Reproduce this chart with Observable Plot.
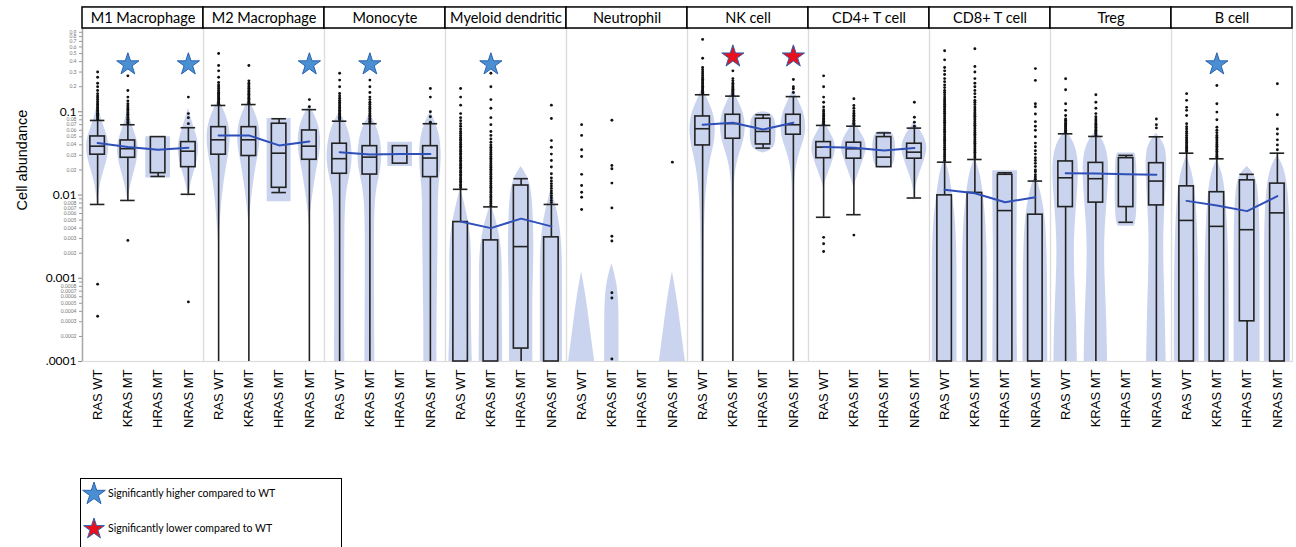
<!DOCTYPE html>
<html><head><meta charset="utf-8">
<script src="https://cdn.jsdelivr.net/npm/d3@7"></script>
<script src="https://cdn.jsdelivr.net/npm/@observablehq/plot@0.6"></script>
<style>
body{margin:0;background:#fff;}
#chart svg{display:block;}
#legend{position:relative;margin-left:80px;margin-top:33px;width:262px;height:90px;border:1.5px solid #000;box-sizing:border-box;font-family:Lato,"Open Sans",sans-serif;font-size:10.5px;color:#000;}
#legend .it{position:absolute;left:0;display:flex;align-items:center;white-space:nowrap;}
</style></head><body>
<div id="chart"></div>
<div id="legend"></div>
<script>
// ---------- data ----------
const cells = ["M1 Macrophage","M2 Macrophage","Monocyte","Myeloid dendritic","Neutrophil","NK cell","CD4+ T cell","CD8+ T cell","Treg","B cell"];
const groups = ["RAS WT","KRAS MT","HRAS MT","NRAS MT"];

const yMajor = [0.0001, 0.001, 0.01, 0.1];
const yMajorLabels = [".0001", "0.001", "0.01", "0.1"];
const yMinor = [0.0002,0.0003,0.0004,0.0005,0.0006,0.0007,0.0008,0.0009,
                0.002,0.003,0.004,0.005,0.006,0.007,0.008,0.009,
                0.02,0.03,0.04,0.05,0.06,0.07,0.08,0.09,
                0.2,0.3,0.4,0.5,0.6,0.7,0.8,0.9];
// minor labels printed (the ones just under a major label are hidden by it)
const yMinorLabels = [0.0002,0.0003,0.0004,0.0005,0.0006,0.0007,0.0008,
                      0.002,0.003,0.004,0.005,0.006,0.007,0.008,
                      0.02,0.03,0.04,0.05,0.06,0.07,0.08,
                      0.2,0.3,0.4,0.5,0.6,0.7,0.8,0.9];

// [cell, group, lowerWhisker, q1, median, q3, upperWhisker]
const boxStats = [
  ["M1 Macrophage","RAS WT",0.0077,0.0305,0.0386,0.0505,0.0786],
  ["M1 Macrophage","KRAS MT",0.0086,0.028,0.036,0.0452,0.0698],
  ["M1 Macrophage","HRAS MT",0.0167,0.0183,null,0.0496,null],
  ["M1 Macrophage","NRAS MT",0.0102,0.0216,0.0336,0.0432,0.0643],
  ["M2 Macrophage","RAS WT",0.0001,0.0305,0.046,0.0653,0.119],
  ["M2 Macrophage","KRAS MT",0.0001,0.0294,0.046,0.0653,0.122],
  ["M2 Macrophage","HRAS MT",0.0107,0.0122,0.0318,0.0718,0.0824],
  ["M2 Macrophage","NRAS MT",0.0001,0.0265,0.0386,0.0596,0.106],
  ["Monocyte","RAS WT",0.0001,0.018,0.0273,0.0413,0.077],
  ["Monocyte","KRAS MT",0.0001,0.0176,0.0285,0.0386,0.0718],
  ["Monocyte","HRAS MT",null,0.0238,null,0.0386,null],
  ["Monocyte","NRAS MT",0.0001,0.0164,0.0278,0.0386,0.0718],
  ["Myeloid dendritic","RAS WT",0.0001,0.0001,null,0.00473,0.0117],
  ["Myeloid dendritic","KRAS MT",0.0001,0.0001,null,0.00285,0.0072],
  ["Myeloid dendritic","HRAS MT",0.0001,0.000143,0.0024,0.013,0.0157],
  ["Myeloid dendritic","NRAS MT",0.0001,0.0001,null,0.0031,0.0077],
  ["NK cell","RAS WT",0.0001,0.0394,0.0625,0.0878,0.16],
  ["NK cell","KRAS MT",0.0001,0.0474,0.072,0.092,0.154],
  ["NK cell","HRAS MT",0.0366,0.0405,0.058,0.0824,0.092],
  ["NK cell","NRAS MT",0.0001,0.053,0.0698,0.092,0.152],
  ["CD4+ T cell","RAS WT",0.0054,0.0277,0.0376,0.0432,0.0685],
  ["CD4+ T cell","KRAS MT",0.0058,0.0273,0.0359,0.0425,0.067],
  ["CD4+ T cell","HRAS MT",null,0.0216,0.0285,0.0496,0.0557],
  ["CD4+ T cell","NRAS MT",0.0092,0.0273,0.0327,0.0413,0.0636],
  ["CD8+ T cell","RAS WT",0.0001,0.0001,null,0.0099,0.0248],
  ["CD8+ T cell","KRAS MT",0.0001,0.0001,null,0.0106,0.0267],
  ["CD8+ T cell","HRAS MT",0.0001,0.0001,0.0065,0.0175,0.0185],
  ["CD8+ T cell","NRAS MT",0.0001,0.0001,null,0.0058,0.0147],
  ["Treg","RAS WT",0.0001,0.00716,0.0161,0.0253,0.0543],
  ["Treg","KRAS MT",0.0001,0.0081,0.0157,0.0243,0.0505],
  ["Treg","HRAS MT",0.0047,0.00716,null,0.0277,0.0299],
  ["Treg","NRAS MT",0.0001,0.0075,0.0147,0.0241,0.05],
  ["B cell","RAS WT",0.0001,0.0001,0.00495,0.0127,0.0318],
  ["B cell","KRAS MT",0.0001,0.0001,0.0042,0.0108,0.0272],
  ["B cell","HRAS MT",0.0001,0.000304,0.00383,0.015,0.0177],
  ["B cell","NRAS MT",0.0001,0.0001,0.0061,0.0137,0.0318]
];

// [cell, group, mean]
const means = [
  ["M1 Macrophage","RAS WT",0.042],["M1 Macrophage","KRAS MT",0.0376],["M1 Macrophage","HRAS MT",0.035],["M1 Macrophage","NRAS MT",0.0369],
  ["M2 Macrophage","RAS WT",0.052],["M2 Macrophage","KRAS MT",0.052],["M2 Macrophage","HRAS MT",0.0394],["M2 Macrophage","NRAS MT",0.044],
  ["Monocyte","RAS WT",0.0327],["Monocyte","KRAS MT",0.0307],["Monocyte","HRAS MT",0.031],["Monocyte","NRAS MT",0.031],
  ["Myeloid dendritic","RAS WT",0.0048],["Myeloid dendritic","KRAS MT",0.0040],["Myeloid dendritic","HRAS MT",0.0052],["Myeloid dendritic","NRAS MT",0.0042],
  ["NK cell","RAS WT",0.0698],["NK cell","KRAS MT",0.0738],["NK cell","HRAS MT",0.0612],["NK cell","NRAS MT",0.0738],
  ["CD4+ T cell","RAS WT",0.0376],["CD4+ T cell","KRAS MT",0.0369],["CD4+ T cell","HRAS MT",0.0343],["CD4+ T cell","NRAS MT",0.0366],
  ["CD8+ T cell","RAS WT",0.0116],["CD8+ T cell","KRAS MT",0.0105],["CD8+ T cell","HRAS MT",0.0082],["CD8+ T cell","NRAS MT",0.0094],
  ["Treg","RAS WT",0.0183],["Treg","KRAS MT",0.0181],["Treg","HRAS MT",0.0178],["Treg","NRAS MT",0.0175],
  ["B cell","RAS WT",0.0085],["B cell","KRAS MT",0.0075],["B cell","HRAS MT",0.0064],["B cell","NRAS MT",0.0097]
];

// [cell, group, [[value, relative density], ...]] top to bottom
const violins = [
  ["M1 Macrophage","RAS WT",[[0.13,0],[0.09,0.2],[0.065,0.5],[0.05,0.78],[0.038,0.88],[0.028,0.78],[0.02,0.5],[0.014,0.22],[0.009,0.05],[0.0075,0]]],
  ["M1 Macrophage","KRAS MT",[[0.11,0],[0.08,0.2],[0.06,0.45],[0.045,0.75],[0.035,0.82],[0.026,0.72],[0.018,0.45],[0.013,0.2],[0.009,0.04],[0.0085,0]]],
  ["M1 Macrophage","HRAS MT",[[0.05,0.95],[0.016,0.95]]],
  ["M1 Macrophage","NRAS MT",[[0.11,0],[0.08,0.25],[0.06,0.5],[0.045,0.75],[0.035,0.8],[0.026,0.7],[0.018,0.4],[0.013,0.15],[0.01,0.04],[0.009,0]]],
  ["M2 Macrophage","RAS WT",[[0.14,0],[0.11,0.35],[0.08,0.7],[0.06,0.88],[0.045,0.9],[0.032,0.8],[0.02,0.55],[0.012,0.35],[0.007,0.2],[0.004,0.08],[0.0025,0]]],
  ["M2 Macrophage","KRAS MT",[[0.14,0],[0.11,0.35],[0.08,0.7],[0.06,0.85],[0.045,0.88],[0.032,0.75],[0.02,0.5],[0.012,0.3],[0.007,0.12],[0.0045,0]]],
  ["M2 Macrophage","HRAS MT",[[0.083,0.92],[0.0083,0.92]]],
  ["M2 Macrophage","NRAS MT",[[0.12,0],[0.1,0.3],[0.075,0.65],[0.055,0.85],[0.04,0.88],[0.028,0.75],[0.018,0.5],[0.011,0.3],[0.007,0.12],[0.0045,0]]],
  ["Monocyte","RAS WT",[[0.1,0],[0.075,0.45],[0.05,0.85],[0.03,1],[0.02,0.9],[0.013,0.6],[0.008,0.45],[0.004,0.4],[0.001,0.38],[0.0003,0.38],[0.0001,0.4]]],
  ["Monocyte","KRAS MT",[[0.095,0],[0.07,0.45],[0.05,0.8],[0.03,0.95],[0.02,0.85],[0.013,0.55],[0.008,0.4],[0.004,0.35],[0.001,0.35],[0.0001,0.38]]],
  ["Monocyte","HRAS MT",[[0.043,0.95],[0.022,0.95]]],
  ["Monocyte","NRAS MT",[[0.1,0],[0.075,0.4],[0.05,0.75],[0.032,0.85],[0.02,0.8],[0.013,0.65],[0.008,0.6],[0.004,0.6],[0.001,0.55],[0.0003,0.5],[0.0001,0.5]]],
  ["Myeloid dendritic","RAS WT",[[0.012,0],[0.008,0.3],[0.005,0.6],[0.003,0.8],[0.0015,0.85],[0.0006,0.8],[0.0002,0.85],[0.0001,0.9]]],
  ["Myeloid dendritic","KRAS MT",[[0.008,0],[0.005,0.4],[0.003,0.75],[0.0015,0.9],[0.0006,0.85],[0.0002,0.9],[0.0001,0.9]]],
  ["Myeloid dendritic","HRAS MT",[[0.022,0],[0.016,0.6],[0.01,0.85],[0.005,0.95],[0.002,1],[0.0008,0.9],[0.0003,0.9],[0.0001,0.9]]],
  ["Myeloid dendritic","NRAS MT",[[0.012,0],[0.007,0.4],[0.004,0.7],[0.002,0.85],[0.0008,0.85],[0.0003,0.85],[0.0001,0.85]]],
  ["Neutrophil","RAS WT",[[0.0012,0],[0.0006,0.35],[0.0003,0.6],[0.00015,0.85],[0.0001,1]]],
  ["Neutrophil","KRAS MT",[[0.0015,0],[0.0009,0.4],[0.0005,0.55],[0.0002,0.55],[0.0001,0.55]]],
  ["Neutrophil","NRAS MT",[[0.0012,0],[0.0006,0.35],[0.0003,0.6],[0.00015,0.85],[0.0001,1]]],
  ["NK cell","RAS WT",[[0.2,0],[0.15,0.3],[0.11,0.7],[0.08,0.95],[0.055,1],[0.038,0.85],[0.025,0.55],[0.015,0.35],[0.008,0.2],[0.003,0.12],[0.0005,0.1],[0.0001,0.1]]],
  ["NK cell","KRAS MT",[[0.19,0],[0.14,0.35],[0.1,0.8],[0.075,0.95],[0.055,0.95],[0.04,0.75],[0.028,0.4],[0.018,0.15],[0.01,0.06],[0.0001,0.04]]],
  ["NK cell","HRAS MT",[[0.1,0],[0.095,0.8],[0.07,1],[0.045,1],[0.035,0.8],[0.032,0]]],
  ["NK cell","NRAS MT",[[0.19,0],[0.14,0.35],[0.1,0.8],[0.075,0.95],[0.055,0.95],[0.04,0.7],[0.028,0.35],[0.018,0.12],[0.01,0.05],[0.0001,0.04]]],
  ["CD4+ T cell","RAS WT",[[0.08,0],[0.06,0.4],[0.047,0.8],[0.037,0.95],[0.028,0.8],[0.02,0.45],[0.015,0.15],[0.012,0]]],
  ["CD4+ T cell","KRAS MT",[[0.078,0],[0.06,0.4],[0.047,0.85],[0.037,1],[0.028,0.8],[0.02,0.45],[0.015,0.15],[0.012,0]]],
  ["CD4+ T cell","HRAS MT",[[0.058,0.3],[0.055,0.9],[0.023,0.9],[0.021,0.3]]],
  ["CD4+ T cell","NRAS MT",[[0.075,0],[0.06,0.45],[0.047,0.85],[0.037,1],[0.028,0.85],[0.02,0.5],[0.015,0.2],[0.011,0.05],[0.008,0]]],
  ["CD8+ T cell","RAS WT",[[0.028,0],[0.018,0.4],[0.01,0.6],[0.005,0.85],[0.002,0.95],[0.0008,0.95],[0.0003,0.95],[0.0001,0.95]]],
  ["CD8+ T cell","KRAS MT",[[0.028,0],[0.018,0.45],[0.01,0.65],[0.005,0.85],[0.002,0.95],[0.0008,0.95],[0.0003,0.95],[0.0001,0.95]]],
  ["CD8+ T cell","HRAS MT",[[0.0195,0.95],[0.01,0.95],[0.003,0.9],[0.001,0.9],[0.0001,0.95]]],
  ["CD8+ T cell","NRAS MT",[[0.018,0],[0.01,0.5],[0.005,0.8],[0.002,0.9],[0.0007,0.95],[0.0001,0.95]]],
  ["Treg","RAS WT",[[0.06,0],[0.045,0.6],[0.03,0.95],[0.018,1],[0.01,0.9],[0.005,0.75],[0.0025,0.65],[0.001,0.7],[0.0003,0.85],[0.0001,0.9]]],
  ["Treg","KRAS MT",[[0.058,0],[0.045,0.6],[0.03,0.95],[0.018,1],[0.01,0.9],[0.005,0.75],[0.0025,0.65],[0.001,0.7],[0.0003,0.85],[0.0001,0.9]]],
  ["Treg","HRAS MT",[[0.032,0.6],[0.03,0.85],[0.005,0.85],[0.0042,0.6]]],
  ["Treg","NRAS MT",[[0.055,0],[0.042,0.6],[0.03,0.8],[0.018,0.8],[0.01,0.7],[0.005,0.6],[0.0025,0.55],[0.001,0.6],[0.0003,0.7],[0.0001,0.75]]],
  ["B cell","RAS WT",[[0.03,0],[0.02,0.4],[0.012,0.65],[0.006,0.8],[0.002,0.9],[0.0006,0.95],[0.0001,0.95]]],
  ["B cell","KRAS MT",[[0.027,0],[0.018,0.45],[0.011,0.65],[0.005,0.8],[0.002,0.9],[0.0006,0.95],[0.0001,0.95]]],
  ["B cell","HRAS MT",[[0.022,0],[0.017,0.7],[0.01,0.9],[0.004,1],[0.001,1],[0.0003,1],[0.0001,1]]],
  ["B cell","NRAS MT",[[0.03,0],[0.022,0.5],[0.013,0.8],[0.006,0.95],[0.002,1],[0.0006,1],[0.0001,1]]]
];

// [cell, group, [outlier values]]
const outliers = [
  ["M1 Macrophage","RAS WT",[0.081,0.084,0.087,0.09,0.093,0.096,0.1,0.104,0.108,0.112,0.117,0.122,0.127,0.133,0.14,0.147,0.155,0.165,0.18,0.2,0.22,0.26,0.3,0.00085,0.00035]],
  ["M1 Macrophage","KRAS MT",[0.072,0.075,0.078,0.081,0.085,0.089,0.093,0.097,0.102,0.107,0.112,0.118,0.125,0.135,0.15,0.18,0.27,0.00285]],
  ["M1 Macrophage","NRAS MT",[0.072,0.085,0.095,0.15,0.00052]],
  ["M2 Macrophage","RAS WT",[0.123,0.127,0.131,0.135,0.14,0.145,0.15,0.155,0.16,0.166,0.172,0.18,0.19,0.2,0.21,0.225,0.26,0.31,0.36,0.5]],
  ["M2 Macrophage","KRAS MT",[0.126,0.13,0.135,0.14,0.145,0.15,0.156,0.162,0.168,0.175,0.183,0.192,0.2,0.21,0.22,0.235,0.36]],
  ["M2 Macrophage","NRAS MT",[0.115,0.14]],
  ["Monocyte","RAS WT",[0.08,0.083,0.086,0.089,0.092,0.096,0.1,0.104,0.108,0.113,0.118,0.124,0.13,0.137,0.145,0.155,0.166,0.2,0.24,0.29]],
  ["Monocyte","KRAS MT",[0.074,0.077,0.08,0.083,0.087,0.091,0.095,0.1,0.105,0.11,0.116,0.123,0.13,0.14,0.15,0.17,0.2,0.24]],
  ["Monocyte","NRAS MT",[0.075,0.087,0.1,0.15,0.19]],
  ["Myeloid dendritic","RAS WT",[0.0122,0.0128,0.0133,0.014,0.0146,0.0154,0.0161,0.017,0.0177,0.0188,0.0195,0.0207,0.0215,0.0228,0.0237,0.0251,0.0261,0.0276,0.0288,0.0304,0.0317,0.0335,0.0349,0.0369,0.0385,0.0406,0.0424,0.0447,0.0467,0.0492,0.052,0.055,0.058,0.062,0.067,0.072,0.078,0.085,0.095,0.12,0.15,0.19]],
  ["Myeloid dendritic","KRAS MT",[0.0075,0.0079,0.0083,0.0087,0.0092,0.0096,0.0101,0.0107,0.0112,0.0118,0.0124,0.013,0.0137,0.0144,0.0151,0.0159,0.0167,0.0176,0.0185,0.0194,0.0204,0.0215,0.0226,0.0238,0.025,0.0263,0.0277,0.0291,0.0306,0.0322,0.0339,0.0356,0.0375,0.04,0.043,0.047,0.052,0.058,0.07,0.085,0.11,0.14,0.2,0.29]],
  ["Myeloid dendritic","NRAS MT",[0.0081,0.0086,0.0092,0.0098,0.0105,0.0112,0.012,0.0128,0.0137,0.0147,0.016,0.018,0.0217,0.026,0.031,0.0375,0.045,0.083,0.12]],
  ["Neutrophil","RAS WT",[0.07,0.052,0.035,0.029,0.0177,0.013,0.0108,0.0094,0.0067]],
  ["Neutrophil","KRAS MT",[0.079,0.0226,0.0207,0.0139,0.007,0.0032,0.0028,0.00067,0.00058,0.000107]],
  ["Neutrophil","NRAS MT",[0.0248]],
  ["NK cell","RAS WT",[0.165,0.17,0.176,0.182,0.188,0.195,0.202,0.21,0.218,0.227,0.236,0.246,0.257,0.27,0.285,0.3,0.32,0.34,0.44,0.74]],
  ["NK cell","KRAS MT",[0.158,0.163,0.168,0.174,0.18,0.186,0.193,0.2,0.21,0.22,0.235,0.25,0.31]],
  ["NK cell","NRAS MT",[0.17,0.189,0.2,0.244]],
  ["CD4+ T cell","RAS WT",[0.071,0.074,0.077,0.08,0.083,0.087,0.091,0.095,0.1,0.105,0.114,0.13,0.15,0.2,0.27,0.0031,0.0026,0.0021]],
  ["CD4+ T cell","KRAS MT",[0.07,0.073,0.076,0.079,0.083,0.087,0.091,0.096,0.102,0.11,0.119,0.143,0.0033]],
  ["CD4+ T cell","NRAS MT",[0.067,0.075,0.086,0.13]],
  ["CD8+ T cell","RAS WT",[0.026,0.0275,0.029,0.0305,0.032,0.0338,0.0355,0.0373,0.0392,0.0412,0.0433,0.0455,0.0478,0.0502,0.0528,0.0555,0.0583,0.0613,0.0644,0.0677,0.0712,0.0748,0.0786,0.0826,0.0868,0.0912,0.0958,0.1007,0.1058,0.1112,0.1168,0.1228,0.129,0.1356,0.1425,0.15,0.16,0.17,0.18,0.195,0.21,0.23,0.25,0.28,0.31,0.34,0.42,0.54]],
  ["CD8+ T cell","KRAS MT",[0.028,0.0295,0.031,0.0326,0.0343,0.036,0.0379,0.0398,0.0418,0.044,0.0462,0.0486,0.0511,0.0537,0.0564,0.0593,0.0623,0.0655,0.0688,0.0723,0.076,0.0799,0.084,0.0883,0.0928,0.0975,0.1025,0.108,0.114,0.122,0.13,0.137,0.15,0.165,0.18,0.2,0.22,0.25,0.3,0.35,0.57]],
  ["CD8+ T cell","NRAS MT",[0.0155,0.0165,0.0175,0.019,0.02,0.022,0.024,0.026,0.028,0.031,0.034,0.038,0.042,0.05,0.06,0.067,0.076,0.094,0.115,0.125,0.238,0.33]],
  ["Treg","RAS WT",[0.056,0.058,0.06,0.062,0.064,0.066,0.068,0.07,0.073,0.076,0.079,0.082,0.09,0.104,0.125,0.184,0.249]],
  ["Treg","KRAS MT",[0.052,0.054,0.056,0.058,0.06,0.062,0.065,0.068,0.071,0.074,0.078,0.082,0.087,0.095,0.11,0.13,0.16]],
  ["Treg","NRAS MT",[0.064,0.07,0.082]],
  ["B cell","RAS WT",[0.033,0.0345,0.036,0.0375,0.039,0.041,0.043,0.045,0.047,0.049,0.052,0.055,0.058,0.062,0.066,0.072,0.09,0.104,0.113,0.137,0.165]],
  ["B cell","KRAS MT",[0.028,0.0292,0.0305,0.032,0.0335,0.035,0.0367,0.0385,0.0405,0.0425,0.0447,0.047,0.0495,0.052,0.056,0.06,0.065,0.08,0.099,0.125,0.207]],
  ["B cell","NRAS MT",[0.035,0.04,0.046,0.054,0.062,0.092,0.217]]
];

// [cell, group, kind]
const stars = [
  ["M1 Macrophage","KRAS MT","higher"],["M1 Macrophage","NRAS MT","higher"],
  ["M2 Macrophage","NRAS MT","higher"],["Monocyte","KRAS MT","higher"],
  ["Myeloid dendritic","KRAS MT","higher"],["NK cell","KRAS MT","lower"],
  ["NK cell","NRAS MT","lower"],["B cell","KRAS MT","higher"]
];

// ---------- styles ----------
const VIOLIN = "#cbd4ee", BOXC = "#222", MEANC = "#2f4fb8";
const BOX_HALF = 0.24, VIOLIN_HALF = 0.43;
const HEADER_TOP = 1.79, HEADER_MID = 1.33;
const STAR_BLUE = "#4b8fd3", STAR_RED = "#e8101c", STAR_EDGE = "#2a62b0";

// ---------- rows ----------
const gi = g => groups.indexOf(g);
const boxRows = boxStats.map(([cell, g, lo, q1, med, q3, hi]) => ({cell, gi: gi(g), lo, q1, med, q3, hi}));
const meanRows = means.map(([cell, g, m]) => ({cell, gi: gi(g), m}));
const violinRows = violins.flatMap(([cell, g, prof]) => prof.map(([v, w]) => ({cell, gi: gi(g), key: cell + "|" + g, v, w})));
const outRows = outliers.flatMap(([cell, g, vals]) => vals.map(v => ({cell, gi: gi(g), v})));
const starRows = stars.map(([cell, g, kind]) => ({cell, gi: gi(g), kind}));

const chart = Plot.plot({
  width: 1296, height: 445,
  marginLeft: 78, marginRight: 1, marginTop: 28, marginBottom: 84,
  style: {fontFamily: "Lato, sans-serif", background: "#fff"},
  fx: {domain: cells, padding: 0, axis: null},
  x: {domain: [-0.5, 3.5]},
  y: {type: "log", domain: [0.0001, 1]},
  marks: [
    Plot.frame({stroke: "#dcdcdc", strokeWidth: 1.2}),
    Plot.areaX(violinRows, {fx: "cell", y: "v", x1: d => d.gi - d.w * VIOLIN_HALF, x2: d => d.gi + d.w * VIOLIN_HALF, z: "key", fill: VIOLIN, curve: "basis"}),
    Plot.ruleX(boxRows.filter(d => d.lo != null), {fx: "cell", x: "gi", y1: "lo", y2: "q1", stroke: BOXC, strokeWidth: 1.6}),
    Plot.ruleX(boxRows.filter(d => d.hi != null), {fx: "cell", x: "gi", y1: "q3", y2: "hi", stroke: BOXC, strokeWidth: 1.6}),
    Plot.ruleY(boxRows.filter(d => d.lo != null && d.lo > 0.0001), {fx: "cell", y: "lo", x1: d => d.gi - BOX_HALF, x2: d => d.gi + BOX_HALF, stroke: BOXC, strokeWidth: 1.6}),
    Plot.ruleY(boxRows.filter(d => d.hi != null), {fx: "cell", y: "hi", x1: d => d.gi - BOX_HALF, x2: d => d.gi + BOX_HALF, stroke: BOXC, strokeWidth: 1.6}),
    Plot.rect(boxRows, {fx: "cell", x1: d => d.gi - BOX_HALF, x2: d => d.gi + BOX_HALF, y1: "q1", y2: "q3", fill: "none", stroke: BOXC, strokeWidth: 1.6}),
    Plot.ruleY(boxRows.filter(d => d.med != null), {fx: "cell", y: "med", x1: d => d.gi - BOX_HALF, x2: d => d.gi + BOX_HALF, stroke: BOXC, strokeWidth: 1.6}),
    Plot.line(meanRows, {fx: "cell", x: "gi", y: "m", stroke: MEANC, strokeWidth: 2}),
    Plot.dot(outRows, {fx: "cell", x: "gi", y: "v", r: 1.45, fill: "#111"}),
    Plot.dot(starRows, {fx: "cell", x: "gi", y: d => d.kind === "lower" ? 0.46 : 0.37, symbol: "star", r: 7,
      fill: d => d.kind === "lower" ? STAR_RED : STAR_BLUE, stroke: STAR_EDGE, strokeWidth: 1}),
    Plot.ruleX([cells[0]], {fx: d => d, x: () => -0.5, stroke: "#a8a8a8", strokeWidth: 1.5}),
    Plot.rect(cells, {fx: d => d, y1: 1, y2: HEADER_TOP, fill: "#fff", stroke: "#000", strokeWidth: 1.5}),
    Plot.text(cells, {fx: d => d, y: HEADER_MID, text: d => d, fontSize: 14.5, fill: "#000"}),
    Plot.axisY({ticks: yMajor, tickFormat: d => yMajorLabels[yMajor.indexOf(d)], tickSize: 4, tickPadding: 2, fontSize: 12, stroke: "#888", label: null}),
    Plot.axisY({ticks: yMinor, tickFormat: () => "", tickSize: 3, stroke: "#999", label: null}),
    Plot.text(yMinorLabels, {fx: () => cells[0], y: d => d, text: d => String(d), frameAnchor: "left", textAnchor: "end", dx: -6, fontSize: 5, fill: "#777"}),
    Plot.text([cells[0]], {fx: d => d, text: () => "Cell abundance", frameAnchor: "left", textAnchor: "middle", rotate: -90, dx: -60, dy: -35, fontSize: 14.5, fontFamily: "Liberation Sans, Arial, sans-serif", fill: "#000"}),
    Plot.axisX({ticks: [0, 1, 2, 3], tickFormat: i => groups[i], tickRotate: -90, tickSize: 0, tickPadding: 8, fontSize: 13, fontFamily: "Liberation Sans, Arial, sans-serif", fill: "#000", label: null})
  ]
});
document.getElementById("chart").appendChild(chart);

// ---------- legend ----------
const legend = document.getElementById("legend");
const legendItems = [
  {text: "Significantly higher compared to WT", fill: STAR_BLUE, top: 1, size: 160},
  {text: "Significantly lower compared to WT", fill: STAR_RED, top: 36, size: 135}
];
for (const it of legendItems) {
  const div = document.createElement("div");
  div.className = "it";
  div.style.top = it.top + "px";
  const path = d3.symbol(d3.symbolStar, it.size)();
  div.innerHTML = `<svg width="26" height="26" style="margin-right:1px"><path d="${path}" transform="translate(13,14)" fill="${it.fill}" stroke="${STAR_EDGE}" stroke-width="1"/></svg><span>${it.text}</span>`;
  legend.appendChild(div);
}
</script>
</body></html>
